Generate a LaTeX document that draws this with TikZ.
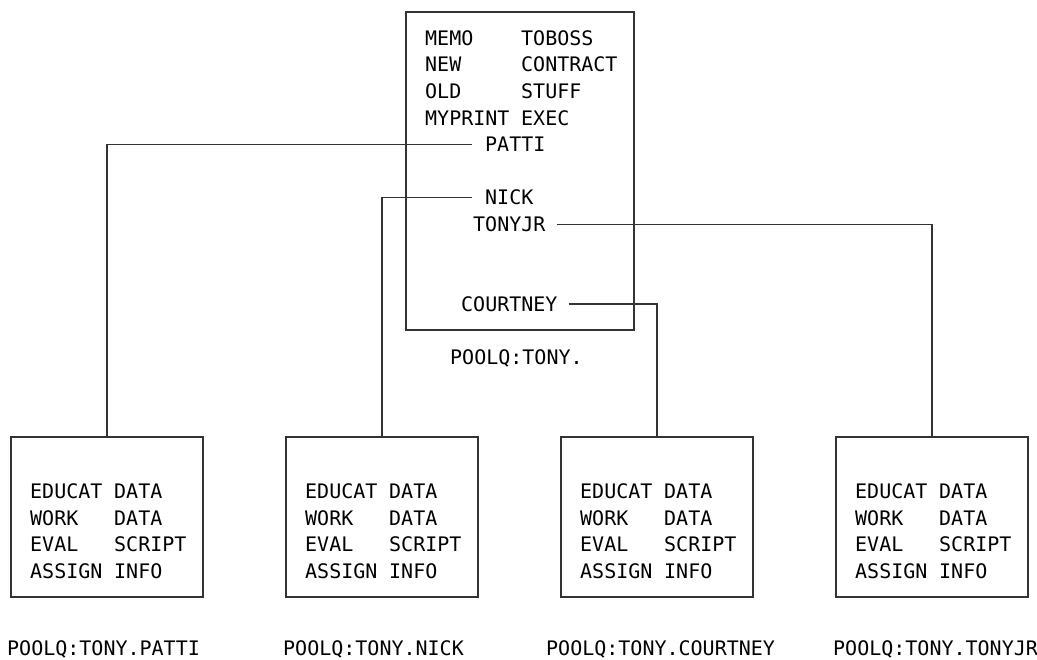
\documentclass[tikz,border=0pt]{standalone}
\usepackage{fontspec}
\newfontfamily\monof{DejaVu Sans Mono}
\begin{document}
\begin{tikzpicture}[x=1pt,y=-1pt,
  txt/.style={font=\monof\fontsize{20}{26}\selectfont, anchor=base west, inner sep=0pt, text=black},
  frame/.style={draw=black!80, line width=1.3pt, inner sep=0pt},
  conn/.style={draw=black!80, line width=1.3pt}]
\useasboundingbox (0,0) rectangle (1037,660);
% top box
\node[frame, minimum width=228pt, minimum height=318pt] (top) at (520,171) {};
\node[txt] (t1a) at (425,45.3) {MEMO};
\node[txt] (t1b) at (521,45.3) {TOBOSS};
\node[txt] (t2a) at (425,71.9) {NEW};
\node[txt] (t2b) at (521,71.9) {CONTRACT};
\node[txt] (t3a) at (425,98.5) {OLD};
\node[txt] (t3b) at (521,98.5) {STUFF};
\node[txt] (t4a) at (425,125.1) {MYPRINT};
\node[txt] (t4b) at (521,125.1) {EXEC};
\node[txt] (patti) at (485,151.7) {PATTI};
\node[txt] (nick) at (485,204.9) {NICK};
\node[txt] (tonyjr) at (473,231.5) {TONYJR};
\node[txt] (courtney) at (461,311.3) {COURTNEY};
\node[txt] (toplabel) at (450,364.3) {POOLQ:TONY.};
% bottom boxes
\foreach \i/\cx in {1/107, 2/382, 3/657, 4/932}{
  \node[frame, minimum width=192pt, minimum height=160pt] (b\i) at (\cx,517) {};
  \node[txt] (b\i r1a) at (\cx-77,498.3) {EDUCAT};
  \node[txt] (b\i r1b) at (\cx+7,498.3) {DATA};
  \node[txt] (b\i r2a) at (\cx-77,525) {WORK};
  \node[txt] (b\i r2b) at (\cx+7,525) {DATA};
  \node[txt] (b\i r3a) at (\cx-77,551.5) {EVAL};
  \node[txt] (b\i r3b) at (\cx+7,551.5) {SCRIPT};
  \node[txt] (b\i r4a) at (\cx-77,578) {ASSIGN};
  \node[txt] (b\i r4b) at (\cx+7,578) {INFO};
}
\node[txt] (l1) at (7,655.5) {POOLQ:TONY.PATTI};
\node[txt] (l2) at (283,655.5) {POOLQ:TONY.NICK};
\node[txt] (l3) at (546,655.5) {POOLQ:TONY.COURTNEY};
\node[txt] (l4) at (833,655.5) {POOLQ:TONY.TONYJR};
% connectors
\coordinate (cp) at ([xshift=-13pt,yshift=7.3pt]patti.base west);
\coordinate (cn) at ([xshift=-13pt,yshift=7.3pt]nick.base west);
\coordinate (ct) at ([xshift=11pt,yshift=7.3pt]tonyjr.base east);
\coordinate (cc) at ([xshift=11pt,yshift=7.3pt]courtney.base east);
\draw[conn] (cp) -| (b1.north);
\draw[conn] (cn) -| (b2.north);
\draw[conn] (ct) -| (b4.north);
\draw[conn] (cc) -| (b3.north);
\end{tikzpicture}
\end{document}
